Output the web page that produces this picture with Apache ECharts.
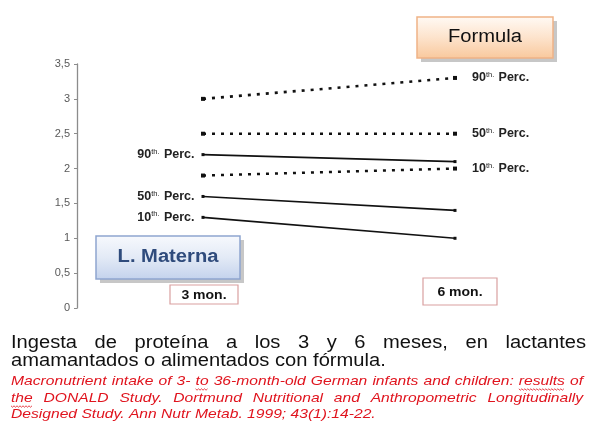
<!DOCTYPE html>
<html><head><meta charset="utf-8">
<script src="https://cdn.jsdelivr.net/npm/echarts@6/dist/echarts.min.js"></script>
<style>html,body{margin:0;padding:0;background:#fff}#c{width:602px;height:445px}</style>
</head><body><div id="c"></div>
<script>
// ---- data ----
const months = [3, 6];
const monthLabels = ['3 mon.', '6 mon.'];
const yTicks = [0, 0.5, 1, 1.5, 2, 2.5, 3, 3.5];
const formula90 = [3.0, 3.3];
const formula50 = [2.5, 2.5];
const formula10 = [1.9, 2.0];
const materna90 = [2.2, 2.1];
const materna50 = [1.6, 1.4];
const materna10 = [1.3, 1.0];
const percNames = ['90', '50', '10'];
const groupFormula = 'Formula';
const groupMaterna = 'L. Materna';
const captionMain = ['Ingesta de proteína a los 3 y 6 meses, en lactantes', 'amamantados o alimentados con fórmula.'];
const captionRef = ['Macronutrient intake of 3- to 36-month-old German infants and children: results of',
  'the DONALD Study. Dortmund Nutritional and Anthropometric Longitudinally',
  'Designed Study. Ann Nutr Metab. 1999; 43(1):14-22.'];
const spellMarked = ['to', 'results', 'the'];

const chart = echarts.init(document.getElementById('c'));
const FONT = "'Liberation Sans', Arial, sans-serif";
const SX = 1.15; // horizontal stretch of the original slide

const percRich = {
  a: { fontSize: 12.5, fontWeight: 'bold', color: '#222', fontFamily: FONT },
  b: { fontSize: 7.5, color: '#222', fontFamily: FONT, padding: [0, 1, 6, 0] }
};
function percLabel(p) { return '{a|' + p + '}{b|th.} {a|Perc.}'; }

function mkSeries(vals, dotted, labelIdx, perc) {
  const data = vals.map((v, i) => {
    const d = { value: [months[i], v] };
    if (i === labelIdx) {
      d.label = {
        show: true,
        position: labelIdx === 0 ? 'left' : 'right',
        distance: labelIdx === 0 ? 7 : 15,
        formatter: percLabel(perc),
        rich: percRich
      };
    }
    return d;
  });
  return {
    type: 'line', data: data, silent: true,
    symbol: 'rect', symbolSize: dotted ? 4 : 3,
    itemStyle: { color: '#111' },
    lineStyle: dotted ? { color: '#111', width: 2.6, type: [3, 6], cap: 'butt' } : { color: '#111', width: 1.6 },
    label: { show: false },
    animation: false
  };
}

const ctx = document.createElement('canvas').getContext('2d');
function wavy(x0, x1, y, color) {
  const pts = []; let k = 0;
  for (let x = x0; x <= x1; x += 1.5, k++) pts.push([x, y + (k % 2 ? 1.2 : -0.2)]);
  return { type: 'polyline', silent: true, shape: { points: pts }, style: { stroke: color, lineWidth: 0.8, fill: null } };
}
function textLine(text, x0, x1, y, font, fill, just, marks) {
  ctx.font = font;
  const words = text.split(' ');
  const widths = words.map(w => ctx.measureText(w).width * SX);
  const total = widths.reduce((a, b) => a + b, 0);
  const gap = just ? Math.max(2, (x1 - x0 - total) / (words.length - 1)) : ctx.measureText(' ').width * SX;
  let x = x0; const out = [];
  words.forEach((w, i) => {
    out.push({ type: 'text', x: x, y: y, scaleX: SX, silent: true,
      style: { text: w, font: font, fill: fill, textVerticalAlign: 'middle' } });
    if (marks && marks.indexOf(w) >= 0) out.push(wavy(x, x + widths[i], y + 8, fill));
    x += widths[i] + gap;
  });
  return out;
}

function box(x, y, w, h, grad, stroke, text, font, color) {
  return [
    { type: 'rect', shape: { x: x + 4, y: y + 4, width: w, height: h }, style: { fill: 'rgba(0,0,0,0.22)' }, silent: true },
    { type: 'rect', shape: { x: x, y: y, width: w, height: h },
      style: { fill: new echarts.graphic.LinearGradient(0, 0, 0, 1, grad), stroke: stroke, lineWidth: 1.5 }, silent: true },
    { type: 'text', x: x + w / 2, y: y + h / 2, scaleX: 1.12, silent: true,
      style: { text: text, font: font, fill: color, textAlign: 'center', textVerticalAlign: 'middle' } }
  ];
}
function monBox(x, y, w, h, text) {
  return [
    { type: 'rect', shape: { x: x, y: y, width: w, height: h }, style: { fill: '#fff', stroke: '#d9a0a0', lineWidth: 1.2 }, silent: true },
    { type: 'text', x: x + w / 2, y: y + h / 2 + 1, scaleX: 1.12, silent: true,
      style: { text: text, font: 'bold 12.5px ' + FONT, fill: '#111', textAlign: 'center', textVerticalAlign: 'middle' } }
  ];
}

let graphics = [];
graphics = graphics.concat(box(417, 17, 136, 41,
  [{ offset: 0, color: '#fffaf5' }, { offset: 0.5, color: '#fde3cc' }, { offset: 1, color: '#f9c89c' }],
  '#efb386', groupFormula, '18px ' + FONT, '#111'));
graphics = graphics.concat(box(96, 236, 144, 43,
  [{ offset: 0, color: '#f7f9fd' }, { offset: 0.5, color: '#e3eaf6' }, { offset: 1, color: '#c3d2ec' }],
  '#8ea5cf', groupMaterna, 'bold 18px ' + FONT, '#2f4b7c'));
graphics = graphics.concat(monBox(170, 285, 68, 19, monthLabels[0]));
graphics = graphics.concat(monBox(423, 278, 74, 27, monthLabels[1]));

const mainFont = '17.5px ' + FONT;
const refFont = 'italic 13.6px ' + FONT;
graphics = graphics.concat(textLine(captionMain[0], 11, 586, 343, mainFont, '#111', true));
graphics = graphics.concat(textLine(captionMain[1], 11, 586, 361, mainFont, '#111', false));
graphics = graphics.concat(textLine(captionRef[0], 11, 583, 381, refFont, '#e0141e', true, spellMarked.slice(0, 2)));
graphics = graphics.concat(textLine(captionRef[1], 11, 583, 398, refFont, '#e0141e', true, spellMarked.slice(2)));
graphics = graphics.concat(textLine(captionRef[2], 11, 583, 414, refFont, '#e0141e', false));

chart.setOption({
  animation: false,
  backgroundColor: '#fff',
  grid: { left: 77, right: 105, top: 64, bottom: 137 },
  xAxis: { type: 'value', min: 1.5, max: 6.5, show: false },
  yAxis: {
    type: 'value', min: yTicks[0], max: yTicks[yTicks.length - 1], interval: 0.5,
    axisLine: { show: true, lineStyle: { color: '#8c8c8c', width: 1.3 } },
    axisTick: { show: true, length: 3, lineStyle: { color: '#8c8c8c' } },
    splitLine: { show: false },
    axisLabel: { color: '#595959', fontSize: 11, fontFamily: FONT, margin: 7,
      formatter: v => String(v).replace('.', ',') }
  },
  series: [
    mkSeries(formula90, true, 1, percNames[0]),
    mkSeries(formula50, true, 1, percNames[1]),
    mkSeries(formula10, true, 1, percNames[2]),
    mkSeries(materna90, false, 0, percNames[0]),
    mkSeries(materna50, false, 0, percNames[1]),
    mkSeries(materna10, false, 0, percNames[2])
  ],
  graphic: graphics
});
</script></body></html>
